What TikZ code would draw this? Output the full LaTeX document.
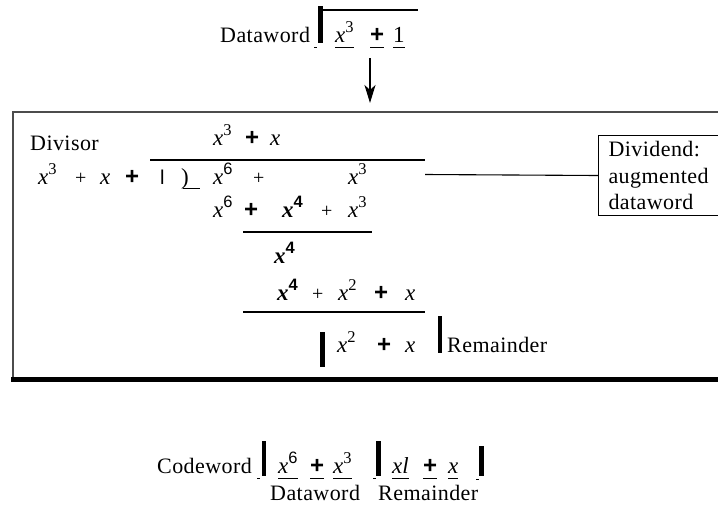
\documentclass[tikz,border=0pt]{standalone}
\usepackage{fontspec}
\setmainfont{Liberation Serif}
\setsansfont{Liberation Sans}
\usetikzlibrary{arrows.meta}
\newcommand\vx{\textit{x}}
\newcommand\sprm[1]{\raisebox{0.40em}{\fontsize{16.5}{16.5}\selectfont #1}}
\newcommand\spsf[1]{\raisebox{0.40em}{\fontsize{16.5}{16.5}\selectfont\sffamily #1}}
\newcommand\bplus{{\fontsize{24}{24}\selectfont\sffamily\bfseries +}}
\newcommand\lplus{{\fontsize{20}{20}\selectfont +}}
\newcommand\bxf{{\bfseries\itshape x}\raisebox{0.40em}{\fontsize{16.5}{16.5}\selectfont\sffamily\bfseries 4}}
\newcommand\ulmark[1]{\setbox0\hbox{#1}\rlap{\rule[-5.5pt]{\wd0}{0.9pt}}\box0}
\begin{document}
\begin{tikzpicture}[x=1pt,y=-1pt,
  lbl/.style={inner sep=0pt, anchor=base west, font=\fontsize{22}{26}\selectfont\addfontfeature{LetterSpace=2}},
  tok/.style={inner sep=0pt, anchor=base west, font=\fontsize{23}{26}\selectfont},
  rulethin/.style={line width=1.1pt},
  rulethick/.style={line width=2.6pt},
  vbar/.style={line width=4.6pt},
  tick/.style={line width=0.9pt}]
\useasboundingbox (0,0) rectangle (718,512);
% ---------- top dataword ----------
\node[lbl] (tdw) at (220,42) {Dataword};
\draw[vbar] (320.5,6) -- (320.5,43);
\draw[line width=1.5pt] (320,10) -- (418,10);
\draw[tick] (314,47) -- (317,47);
\node[tok] (tx3) at (335,42) {\ulmark{\vx\sprm{3}}};
\node[tok] (tpl) at (370,42) {\ulmark{\bplus}};
\node[tok] (tone) at (393,42) {\ulmark{1}};
\coordinate (a1) at (370,58);
\coordinate (a2) at (370,103);
\draw[line width=2pt, -{Stealth[length=18pt,width=11pt,inset=5pt]}] (a1) -- (a2);
% ---------- main box ----------
\draw[line width=1.3pt, draw=black!70] (718,112) -- (13,112) -- (13,378);
\draw[line width=5pt] (11,379.5) -- (718,379.5);
\node[lbl] (divisor) at (30,150) {Divisor};
\node[tok] (q1) at (213,145) {\vx\sprm{3}};
\node[tok] (q2) at (245,145) {\bplus};
\node[tok] (q3) at (270,145) {\vx};
\draw[rulethin] (150,160) -- (372,160);
\draw[rulethick] (372,160) -- (425,160);
% row 2
\node[tok] (r2a) at (38,184) {\vx\sprm{3}};
\node[tok] (r2b) at (75,184) {\lplus};
\node[tok] (r2c) at (100,184) {\vx};
\node[tok] (r2d) at (125,184) {\bplus};
\node[tok] (r2e) at (160,184) {\fontsize{20}{20}\selectfont\sffamily l};
\node[tok] (r2f) at (181,184) {)};
\draw[tick] (183,188) -- (200,188);
\node[tok] (r2g) at (213,184) {\vx\spsf{6}};
\node[tok] (r2h) at (253,184) {\lplus};
\node[tok] (r2i) at (348,184) {\vx\sprm{3}};
% dividend box
\node[draw, line width=1pt, anchor=north west, minimum width=150pt, minimum height=80pt,
      text width=130pt, inner xsep=10pt, align=left,
      font=\fontsize{22}{26.5}\selectfont\addfontfeature{LetterSpace=2}] (divbox) at (598,135)
      {Dividend:\\augmented\\dataword};
\coordinate (c1) at (425,174.5);
\draw[line width=1.1pt] (c1) -- (divbox.west);
% row 3
\node[tok] (r3a) at (213,217) {\vx\spsf{6}};
\node[tok] (r3b) at (244,217) {\bplus};
\node[tok] (r3c) at (282,217) {\bxf};
\node[tok] (r3d) at (321,217) {\lplus};
\node[tok] (r3e) at (348,217) {\vx\sprm{3}};
\draw[rulethin] (243,232) -- (372,232);
% row 4
\node[tok] (r4a) at (274,263) {\bxf};
% row 5
\node[tok] (r5a) at (277,300) {\bxf};
\node[tok] (r5b) at (312,300) {\lplus};
\node[tok] (r5c) at (338,300) {\vx\sprm{2}};
\node[tok] (r5d) at (374,300) {\bplus};
\node[tok] (r5e) at (405,300) {\vx};
\draw[rulethin] (243,312) -- (372,312);
\draw[rulethick] (372,312) -- (425,312);
% remainder row
\draw[vbar] (322.5,332) -- (322.5,367);
\node[tok] (r6a) at (337,352) {\vx\sprm{2}};
\node[tok] (r6b) at (377,352) {\bplus};
\node[tok] (r6c) at (405,352) {\vx};
\draw[vbar] (440,316) -- (440,353);
\node[lbl] (rem) at (447,352) {Remainder};
% ---------- codeword ----------
\node[lbl] (cw) at (157,473) {Codeword};
\draw[tick] (257,478) -- (260,478);
\draw[vbar] (264,441) -- (264,476);
\node[tok] (c1a) at (278,473) {\ulmark{\vx\spsf{6}}};
\node[tok] (c1b) at (310,473) {\ulmark{\bplus}};
\node[tok] (c1c) at (333,473) {\ulmark{\vx\sprm{3}}};
\draw[tick] (373,478) -- (376,478);
\draw[vbar] (378.5,441) -- (378.5,476);
\node[tok] (c2a) at (392,473) {\ulmark{\textit{xl}}};
\node[tok] (c2b) at (423,473) {\ulmark{\bplus}};
\node[tok] (c2c) at (448,473) {\ulmark{\vx}};
\draw[tick] (476,479) -- (479,479);
\draw[vbar] (481.5,446) -- (481.5,476);
\node[lbl] (ldw) at (270,500) {Dataword};
\node[lbl] (lrem) at (378,500) {Remainder};
\end{tikzpicture}
\end{document}
